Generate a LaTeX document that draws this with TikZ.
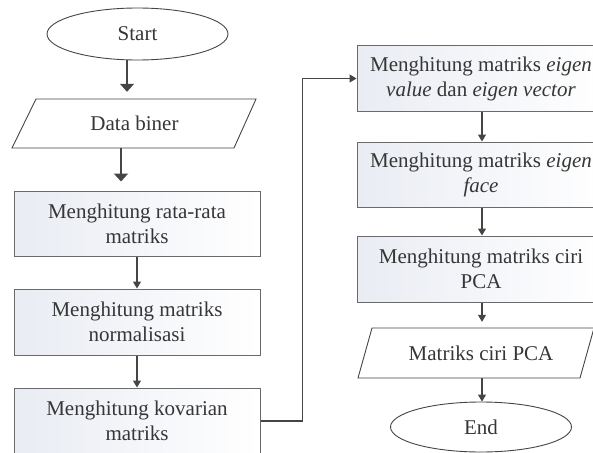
\documentclass[tikz,border=0pt]{standalone}
\usepackage{fontspec}
\setmainfont{Liberation Serif}
\usetikzlibrary{arrows.meta,shapes.geometric,calc}
\definecolor{txtc}{HTML}{363636}
\definecolor{linec}{HTML}{454545}
\definecolor{borderc}{HTML}{6A6A6A}
\definecolor{boxl}{HTML}{E9ECF3}
\tikzset{
  txt/.style={font=\fontsize{21}{25}\selectfont, text=txtc, align=center, inner sep=0pt},
  procbox/.style={txt, draw=borderc, line width=1pt, rectangle, left color=boxl, right color=white, minimum width=246pt, minimum height=65pt},
  term/.style={txt, draw=linec, line width=0.9pt, ellipse, minimum width=181pt, minimum height=52pt},
  iobox/.style={draw=linec, line width=0.9pt},
  conn/.style={draw=linec, line width=1.1pt, -{Triangle[width=8pt,length=7pt]}},
  bigconn/.style={draw=linec, line width=1.1pt, -{Triangle[width=14pt,length=8pt]}},
}
\begin{document}
\begin{tikzpicture}[x=1pt,y=-1pt]
\useasboundingbox (0,0) rectangle (593,452);
\fill[white] (0,0) rectangle (593,452);
\clip (0,0) rectangle (593,452);

% left column
\node[term] (start) at (137.5,34) {Start};
\draw[iobox] (36,99) -- (256,99) -- (234,148) -- (12,148) -- cycle;
\node[txt, minimum height=49pt] (data) at (134.5,123.5) {Data biner};
\node[procbox] (b1) at (137,223.5) {Menghitung rata-rata\\matriks};
\node[procbox, minimum height=66pt] (b2) at (137,322) {Menghitung matriks\\normalisasi};
\node[procbox, minimum height=66pt] (b3) at (137,421) {Menghitung kovarian\\matriks};

% right column
\node[procbox, minimum width=248pt] (r1) at (481,78.5) {Menghitung matriks \textit{eigen}\\\textit{value} dan \textit{eigen vector}};
\node[procbox, minimum width=248pt] (r2) at (481,174.5) {Menghitung matriks \textit{eigen}\\\textit{face}};
\node[procbox, minimum width=248pt, minimum height=66pt] (r3) at (481,269) {Menghitung matriks ciri\\PCA};
\draw[iobox] (372,328) -- (594,328) -- (580,378) -- (358,378) -- cycle;
\node[txt, minimum height=50pt] (para) at (481,353) {Matriks ciri PCA};
\node[term, minimum height=50pt] (end) at (481,427) {End};

% connector x positions
\coordinate (ax1) at (127,0);
\coordinate (ax2) at (121,0);
\coordinate (ax3) at (482,0);

\draw[bigconn, shorten >=7pt] (start.south -| ax1) -- (data.north -| ax1);
\draw[bigconn, line width=2pt, shorten >=9pt] (data.south -| ax2) -- (b1.north -| ax2);
\draw[conn] (b1) -- (b2);
\draw[conn] (b2) -- (b3);
\draw[conn] (b3.east) -- ++(42,0) |- (r1.west);
\draw[conn] (r1.south -| ax3) -- (r2.north -| ax3);
\draw[conn] (r2.south -| ax3) -- (r3.north -| ax3);
\draw[conn, shorten >=6pt] (r3.south -| ax3) -- (para.north -| ax3);
\draw[conn] (para.south -| ax3) -- (end.north -| ax3);
\end{tikzpicture}
\end{document}
